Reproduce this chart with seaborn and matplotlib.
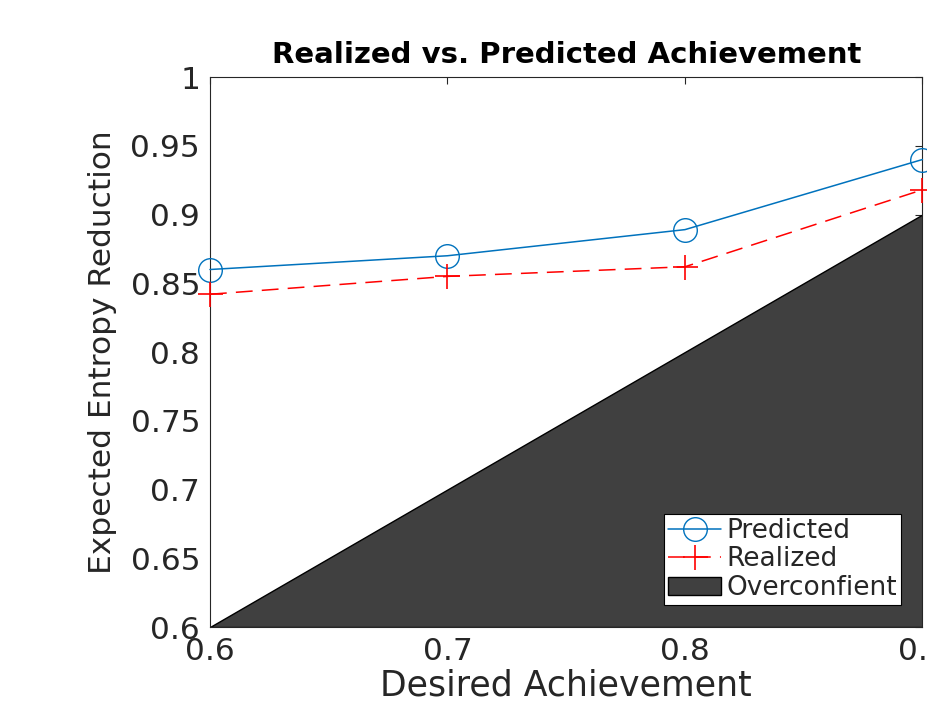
import numpy as np
import pandas as pd
import seaborn as sns
import matplotlib.pyplot as plt

# values
desired = [0.6, 0.7, 0.8, 0.9]
predicted = [0.86, 0.87, 0.889, 0.94]
realized = [0.842, 0.855, 0.862, 0.918]
tick_x = [0.6, 0.7, 0.8, 0.9]
tick_y = [0.6, 0.65, 0.7, 0.75, 0.8, 0.85, 0.9, 0.95, 1.0]
tick_y_labels = ['0.6', '0.65', '0.7', '0.75', '0.8', '0.85', '0.9', '0.95', '1']

df = pd.DataFrame({'Desired': desired, 'Predicted': predicted, 'Realized': realized})

sns.set_style('white')
plt.rcParams['font.family'] = ['DejaVu Sans']

fig = plt.figure(figsize=(9.27, 7.13), dpi=100)
ax = fig.add_axes([0.2265, 0.1206, 0.7686, 0.7714])

# overconfident region: below the diagonal
ax.fill_between(df['Desired'], df['Desired'], 0.6, color='#404040',
                edgecolor='black', linewidth=1, label='Overconfient', zorder=1)

sns.lineplot(data=df, x='Desired', y='Predicted', ax=ax, color='#0072BD',
             marker='o', markersize=17, markerfacecolor='none',
             markeredgecolor='#0072BD', markeredgewidth=1, linewidth=1.1,
             label='Predicted', clip_on=False, zorder=3)
sns.lineplot(data=df, x='Desired', y='Realized', ax=ax, color='red',
             marker='+', markersize=18, markeredgecolor='red',
             markeredgewidth=1.2, linewidth=1.1, linestyle=(0, (11, 6)),
             label='Realized', clip_on=False, zorder=3)

ax.set_xlim(0.6, 0.9)
ax.set_ylim(0.6, 1.0)
ax.set_xticks(tick_x)
ax.set_xticklabels([str(t) for t in tick_x])
ax.set_yticks(tick_y)
ax.set_yticklabels(tick_y_labels)
ax.tick_params(direction='in', length=5, width=0.8, colors='#262626',
               labelsize=22.5, top=True, right=True, pad=7)
for s in ax.spines.values():
    s.set_color('#262626')
    s.set_linewidth(0.8)
    s.set_visible(True)

ax.set_xlabel('Desired Achievement', fontsize=25, color='#262626', labelpad=2)
ax.set_ylabel('Expected Entropy Reduction', fontsize=22.5, color='#262626', labelpad=10)
ax.set_title('Realized vs. Predicted Achievement', fontsize=21, fontweight='bold',
             color='black', pad=10)

handles, labels = ax.get_legend_handles_labels()
order = [labels.index(n) for n in ['Predicted', 'Realized', 'Overconfient']]
leg = ax.legend([handles[i] for i in order], [labels[i] for i in order],
                loc='lower right', bbox_to_anchor=(0.97, 0.04), fontsize=19,
                frameon=True, fancybox=False, framealpha=1, edgecolor='black',
                borderpad=0.15, labelspacing=0.1, handlelength=2.0,
                handletextpad=0.2, borderaxespad=0)
leg.get_frame().set_linewidth(0.8)

fig.savefig('out.png', dpi=100)
